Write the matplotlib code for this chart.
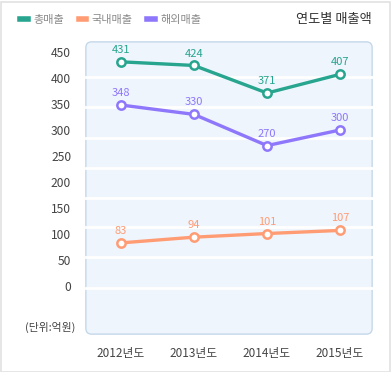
import matplotlib.pyplot as plt
from matplotlib.patches import FancyBboxPatch, Rectangle
from matplotlib.lines import Line2D

plt.rcParams['font.family'] = ['Noto Sans CJK KR', 'DejaVu Sans']

# ---------------------------------
# Data
# ---------------------------------
years = ["2012년도", "2013년도", "2014년도", "2015년도"]
total_sales = [431, 424, 371, 407]
domestic_sales = [83, 94, 101, 107]
overseas_sales = [348, 330, 270, 300]
series_names = ["총매출", "국내매출", "해외매출"]
y_ticks = [0, 50, 100, 150, 200, 250, 300, 350, 400, 450]

colors = ["#27a58e", "#ff9c74", "#8e77fb"]
grid_y = [-4, 55, 113, 169, 226, 284, 344, 402]

# ---------------------------------
# Figure
# ---------------------------------
W, H = 391, 372
fig = plt.figure(figsize=(W / 100, H / 100), dpi=100)
fig.patch.set_facecolor("white")
fig.patches.append(Rectangle((0.5 / W, 0.5 / H), 1 - 2 / W, 1 - 2 / H,
                             transform=fig.transFigure, fill=False,
                             edgecolor="#e2e2e2", linewidth=1.2))

left, right, top, bottom = 85, 373, 41, 335
ax = fig.add_axes([left / W, 1 - bottom / H, (right - left) / W, (bottom - top) / H])
ax.set_xlim(-0.49, 3.45)
ax.set_ylim(-94, 471)
ax.patch.set_visible(False)
for s in ax.spines.values():
    s.set_visible(False)

ax.add_patch(FancyBboxPatch((0.003, 0.003), 0.994, 0.994,
                            boxstyle="round,pad=0,rounding_size=0.02",
                            transform=ax.transAxes, facecolor="#eff5fd",
                            edgecolor="#c5d8ea", linewidth=1.0, zorder=0))

for g in grid_y:
    ax.axhline(g, xmin=0.005, xmax=0.995, color="white", linewidth=2, zorder=1)

x = list(range(len(years)))
for vals, c in zip([total_sales, domestic_sales, overseas_sales], colors):
    ax.plot(x, vals, color=c, linewidth=2.4, marker="o", markersize=6,
            markerfacecolor="white", markeredgecolor=c, markeredgewidth=1.8, zorder=3)
    for xi, v in zip(x, vals):
        ax.annotate(str(v), (xi, v), xytext=(0, 5), textcoords="offset points",
                    ha="center", va="bottom", color=c, fontsize=8, zorder=4)

ax.set_yticks(y_ticks)
ax.set_yticklabels([str(t) for t in y_ticks], fontsize=8.7, color="#444444")
ax.set_xticks(x)
ax.set_xticklabels(years, fontsize=8.5, color="#444444")
ax.tick_params(axis="y", length=0, pad=10)
ax.tick_params(axis="x", length=0, pad=9)

fig.text(75 / W, 1 - 327 / H, "(단위:억원)", ha="right", va="center",
         fontsize=7.8, color="#444444")

# ---------------------------------
# Legend + title
# ---------------------------------
handles = [Line2D([0], [0], color=c, linewidth=4) for c in colors]
fig.legend(handles, series_names, loc="center left", bbox_to_anchor=(10 / W, 1 - 20 / H),
           ncol=3, frameon=False, fontsize=8, labelcolor="#8a8a8a",
           handlelength=0.7, handletextpad=0.5, columnspacing=1.3)

fig.text(372 / W, 1 - 20 / H, "연도별 매출액", ha="right", va="center",
         fontsize=9.5, color="#333333")

plt.savefig("out.png", dpi=100)
